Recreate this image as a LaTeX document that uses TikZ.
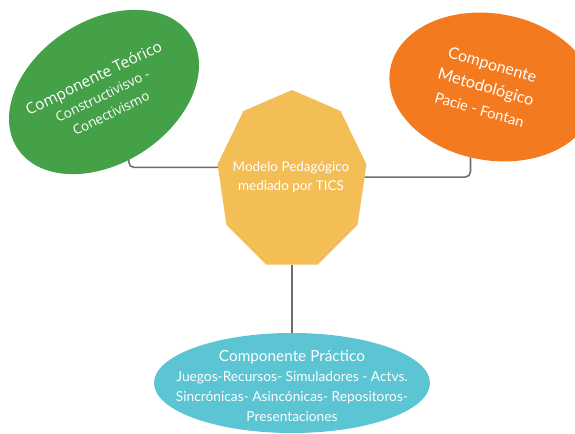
\documentclass[tikz,border=0pt]{standalone}
\usepackage{fontspec}
\setmainfont{Lato}
\newfontfamily\opensans{Open Sans}
\usetikzlibrary{shapes.geometric, calc}

\definecolor{teogreen}{HTML}{45A148}
\definecolor{metorange}{HTML}{F47A20}
\definecolor{hubyellow}{HTML}{F2BE55}
\definecolor{praccyan}{HTML}{5BC5D3}
\definecolor{linkgray}{HTML}{6E6E6E}

\begin{document}
\begin{tikzpicture}[
  x=0.75pt, y=-0.75pt,
  blob/.style={ellipse, draw=none, inner sep=0pt, outer sep=0pt},
  hub/.style={regular polygon, regular polygon sides=9, fill=hubyellow,
    minimum size=135pt, inner sep=0pt, outer sep=0pt},
  caption/.style={text=white, align=center, inner sep=0pt},
  link/.style={draw=linkgray, line width=1.2pt, rounded corners=4pt}
]
\useasboundingbox (0,0) rectangle (575,434);

% centre
\node[hub, xscale=0.84] (cen) at (292,180) {};
\node[caption, font=\fontsize{10.1}{14.5}\selectfont] (centxt) at (291,177)
  {Modelo Pedagógico\\mediado por TICS};

% the three components
\node[blob, fill=teogreen, rotate=33, minimum width=155pt, minimum height=107pt]
  (teo) at (104,92) {};
\node[caption, rotate=26, font=\opensans\fontsize{10}{14.5}\selectfont] (teotxt) at (102,95)
  {{\fontsize{11.5}{14.5}\selectfont Componente Teórico}\\Constructivisvo -\\Conectivismo};

\node[blob, fill=metorange, rotate=-10, minimum width=155pt, minimum height=110pt]
  (met) at (492,87) {};
\node[caption, rotate=-16, font=\fontsize{11}{17.5}\selectfont] (mettxt) at (486,87)
  {{\fontsize{12}{17.5}\selectfont Componente}\\{\fontsize{12.2}{17.5}\selectfont Metodológico}\\Pacie - Fontan};

\node[blob, fill=praccyan, minimum width=207pt, minimum height=75pt]
  (prac) at (292,383) {};
\node[caption, font=\fontsize{10.3}{14.8}\selectfont] (practxt) at (292,386)
  {{\fontsize{11.5}{14.8}\selectfont Componente Práctico}\\Juegos-Recursos- Simuladores - Actvs.\\
   Sincrónicas- Asincónicas- Repositoros-\\Presentaciones};

% connectors
\draw[link] (teo.-103) |- ($(cen.corner 3)!0.05!(cen.corner 4)$);
\draw[link] (met.-97) |- ($(cen.corner 8)!0.21!(cen.corner 7)$);
\draw[link] (cen.side 5) -- (prac.north);

\end{tikzpicture}
\end{document}
